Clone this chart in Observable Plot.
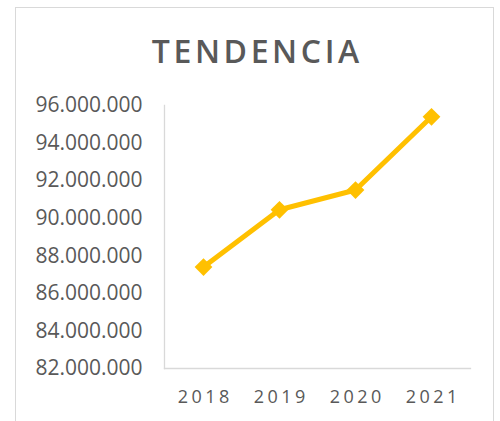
<!DOCTYPE html>
<html>
<head>
<meta charset="utf-8">
<script src="https://cdn.jsdelivr.net/npm/d3@7"></script>
<script src="https://cdn.jsdelivr.net/npm/@observablehq/plot@0.6"></script>
<style>
  html, body { margin: 0; padding: 0; background: #fff; width: 500px; height: 421px; overflow: hidden; }
  #box { position: absolute; left: 15px; top: 7px; width: 479px; height: 430px; border: 1px solid #d9d9d9; box-sizing: border-box; }
  #title { position: absolute; left: 15px; width: 481px; top: 35px; text-align: center; font-family: "Open Sans", sans-serif; font-weight: 600; font-size: 32px; line-height: 32px; letter-spacing: 3.6px; color: #595959; padding-left: 3.6px; box-sizing: border-box; }
  #chart { position: absolute; left: 16px; top: 80px; }
  #chart g[aria-label="x-axis tick label"] text { letter-spacing: 3.5px; }
</style>
</head>
<body>
<div id="box"></div>
<div id="title">TENDENCIA</div>
<div id="chart"></div>
<script>
const years = ["2018", "2019", "2020", "2021"];
const values = [87400000, 90450000, 91500000, 95400000];
const yTicks = [82000000, 84000000, 86000000, 88000000, 90000000, 92000000, 94000000, 96000000];

const data = years.map((y, i) => ({year: y, value: values[i]}));
const fmt = d => d3.format(",")(d).replace(/,/g, ".");

const chart = Plot.plot({
  width: 478,
  height: 341,
  marginLeft: 148,
  marginRight: 24,
  marginTop: 25,
  marginBottom: 53,
  style: {fontFamily: "'Open Sans', sans-serif", color: "#595959", background: "transparent"},
  x: {type: "point", domain: years, padding: 0.5, label: null},
  y: {domain: [82000000, 96000000], label: null},
  marks: [
    Plot.frame({anchor: "left", stroke: "#d9d9d9", strokeWidth: 1.3}),
    Plot.frame({anchor: "bottom", stroke: "#d9d9d9", strokeWidth: 1.3}),
    Plot.axisY({ticks: yTicks, tickFormat: fmt, tickSize: 0, tickPadding: 22, fontSize: 21, fill: "#595959", label: null}),
    Plot.axisX({tickSize: 0, tickPadding: 22, fontSize: 18, fill: "#595959", dx: 1.75, label: null}),
    Plot.line(data, {x: "year", y: "value", stroke: "#FFC000", strokeWidth: 5}),
    Plot.dot(data, {x: "year", y: "value", symbol: "diamond2", r: 8, fill: "#FFC000", stroke: "none"})
  ]
});
document.getElementById("chart").appendChild(chart);
</script>
</body>
</html>
